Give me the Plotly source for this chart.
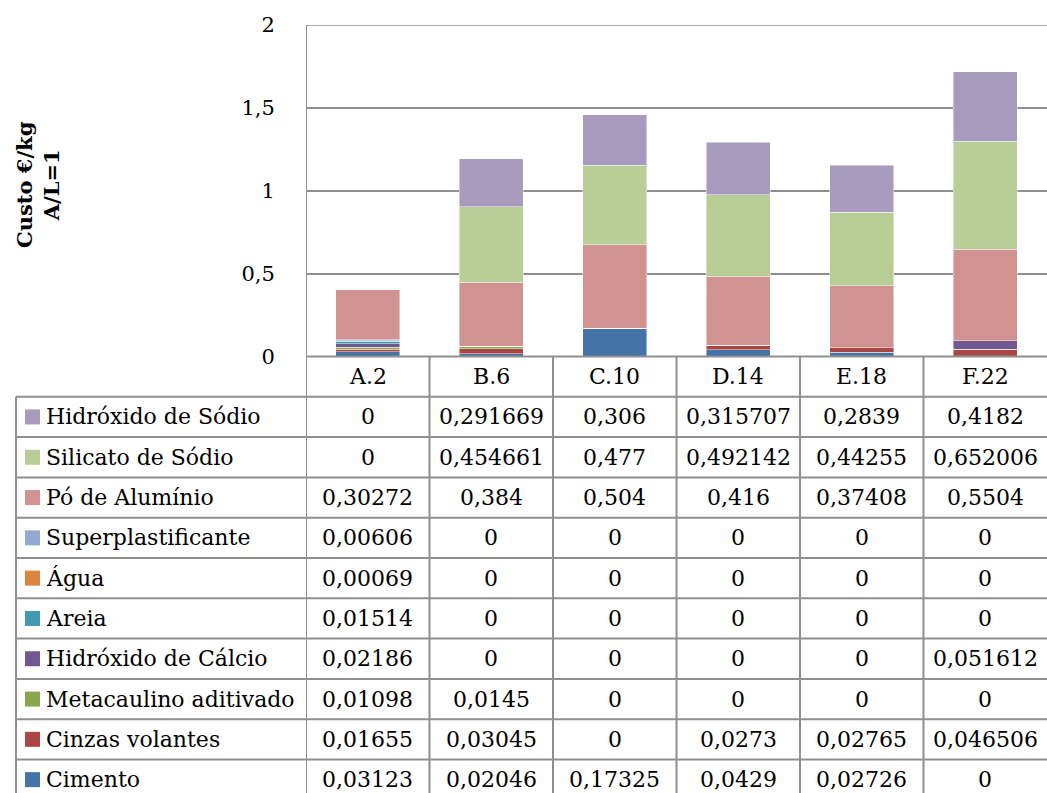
import plotly.graph_objects as go

# Mix designs
categories = ["A.2", "B.6", "C.10", "D.14", "E.18", "F.22"]

# Cost components (€/kg), listed bottom-to-top of each stack
cimento = [0.03123, 0.02046, 0.17325, 0.0429, 0.02726, 0]
cinzas_volantes = [0.01655, 0.03045, 0, 0.0273, 0.02765, 0.046506]
metacaulino = [0.01098, 0.0145, 0, 0, 0, 0]
hidroxido_calcio = [0.02186, 0, 0, 0, 0, 0.051612]
areia = [0.01514, 0, 0, 0, 0, 0]
agua = [0.00069, 0, 0, 0, 0, 0]
superplastificante = [0.00606, 0, 0, 0, 0, 0]
po_aluminio = [0.30272, 0.384, 0.504, 0.416, 0.37408, 0.5504]
silicato_sodio = [0, 0.454661, 0.477, 0.492142, 0.44255, 0.652006]
hidroxido_sodio = [0, 0.291669, 0.306, 0.315707, 0.2839, 0.4182]

series = [
    ("Cimento", cimento, "#4572A7"),
    ("Cinzas volantes", cinzas_volantes, "#AA4643"),
    ("Metacaulino aditivado", metacaulino, "#89A54E"),
    ("Hidróxido de Cálcio", hidroxido_calcio, "#71588F"),
    ("Areia", areia, "#4198AF"),
    ("Água", agua, "#DB843D"),
    ("Superplastificante", superplastificante, "#93A9CF"),
    ("Pó de Alumínio", po_aluminio, "#D19392"),
    ("Silicato de Sódio", silicato_sodio, "#B9CD96"),
    ("Hidróxido de Sódio", hidroxido_sodio, "#A99BBD"),
]

y_ticks = [0, 0.5, 1, 1.5, 2]

W, H = 1047, 793
FONT = "DejaVu Serif"
FS = 22
LINE = "#8f8f8f"


def px_x(p):
    return p / W


def px_y(p):
    return 1 - p / H


def fmt(v):
    return "0" if v == 0 else repr(v).replace(".", ",")


fig = go.Figure()
for name, vals, color in series:
    fig.add_trace(go.Bar(
        x=categories, y=vals, name=name,
        marker=dict(color=color, line=dict(color="rgba(255,255,255,0.55)", width=0.8)),
        showlegend=False,
    ))

plot_left, plot_top, plot_bottom = 306, 25, 357
row_h = 40.3
header_top = 356.5
first_row = header_top + row_h

shapes = []
annotations = []

# Top gridline at the axis maximum
shapes.append(dict(type="line", xref="paper", yref="y", x0=px_x(plot_left), x1=1,
                   y0=max(y_ticks), y1=max(y_ticks), line=dict(color=LINE, width=1.5),
                   layer="below"))

# Vertical rules of the data table
shapes.append(dict(type="line", xref="x", yref="paper", x0=-0.5, x1=-0.5,
                   y0=0, y1=px_y(plot_top), line=dict(color=LINE, width=2)))
for i in range(1, len(categories)):
    shapes.append(dict(type="line", xref="x", yref="paper", x0=i - 0.5, x1=i - 0.5,
                       y0=0, y1=px_y(header_top), line=dict(color=LINE, width=2)))
shapes.append(dict(type="line", xref="paper", yref="paper", x0=px_x(16), x1=px_x(16),
                   y0=0, y1=px_y(first_row), line=dict(color=LINE, width=2)))

# Horizontal rules
shapes.append(dict(type="line", xref="paper", yref="paper", x0=px_x(plot_left), x1=1,
                   y0=px_y(header_top), y1=px_y(header_top), line=dict(color=LINE, width=2)))
rows = list(reversed(series))
for k in range(len(rows)):
    yy = first_row + k * row_h
    shapes.append(dict(type="line", xref="paper", yref="paper", x0=px_x(16), x1=1,
                       y0=px_y(yy), y1=px_y(yy), line=dict(color=LINE, width=2)))

# Header row: category names
for c in categories:
    annotations.append(dict(x=c, xref="x", y=px_y(header_top + row_h / 2), yref="paper",
                            text=c, showarrow=False, xanchor="center", yanchor="middle",
                            font=dict(family=FONT, size=FS, color="#000")))

# Body rows: legend key, series name and values
for k, (name, vals, color) in enumerate(rows):
    yc = first_row + k * row_h + row_h / 2
    shapes.append(dict(type="rect", xref="paper", yref="paper",
                       x0=px_x(25), x1=px_x(40), y0=px_y(yc + 7.5), y1=px_y(yc - 7.5),
                       fillcolor=color, line=dict(width=0)))
    annotations.append(dict(x=px_x(44), xref="paper", y=px_y(yc), yref="paper",
                            text=name, showarrow=False, xanchor="left", yanchor="middle",
                            font=dict(family=FONT, size=FS, color="#000")))
    for c, v in zip(categories, vals):
        annotations.append(dict(x=c, xref="x", y=px_y(yc), yref="paper",
                                text=fmt(v), showarrow=False, xanchor="center", yanchor="middle",
                                font=dict(family=FONT, size=FS, color="#000")))

# Axis title
annotations.append(dict(x=px_x(38), xref="paper", y=px_y(185), yref="paper",
                        text="<b>Custo €/kg</b><br><b>A/L=1</b>", textangle=-90,
                        showarrow=False, xanchor="center", yanchor="middle",
                        font=dict(family=FONT, size=21, color="#000")))

fig.update_layout(
    barmode="stack",
    bargap=0.48,
    width=W, height=H,
    margin=dict(l=0, r=0, t=0, b=0, autoexpand=False),
    paper_bgcolor="white", plot_bgcolor="white",
    separators=",.",
    shapes=shapes,
    annotations=annotations,
    xaxis=dict(domain=[px_x(plot_left), 1], range=[-0.5, 5.5], showticklabels=False,
               showgrid=False, zeroline=False, showline=False, fixedrange=True,
               automargin=False),
    yaxis=dict(domain=[px_y(plot_bottom), px_y(plot_top)], range=[0, 2],
               tickvals=y_ticks, ticks="outside", ticklen=0, ticklabelstandoff=26,
               showgrid=True, gridcolor=LINE, gridwidth=1.5, zeroline=False,
               showline=False, automargin=False,
               tickfont=dict(family=FONT, size=21, color="#000")),
)

fig.write_html("out.html")
